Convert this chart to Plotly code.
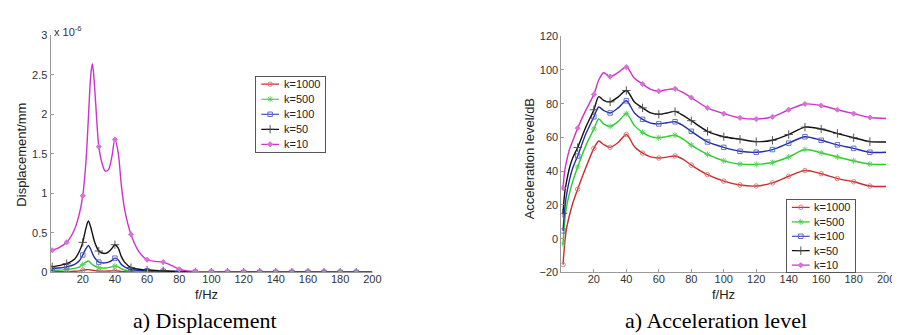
import plotly.graph_objects as go

# ---------------- data ----------------
series_names = ["k=1000", "k=500", "k=100", "k=50", "k=10"]

# a) Displacement (values in units of 1e-6 mm)
freq_disp = [1, 5, 10, 15, 18, 20, 22, 23.5, 25, 26, 27, 28, 30, 32, 34, 36, 38, 40, 42, 44,
             46, 50, 55, 60, 65, 70, 75, 80, 85, 90, 100, 110, 120, 130, 140, 150, 160, 170,
             180, 190, 200]
disp_k1000 = [0.008, 0.009, 0.010, 0.015, 0.020, 0.028, 0.033, 0.035, 0.030, 0.027, 0.024, 0.022,
              0.018, 0.016, 0.016, 0.017, 0.019, 0.021, 0.018, 0.012, 0.008, 0.005, 0.003, 0.002,
              0.002, 0.002, 0.001, 0.001, 0.001, 0.001, 0.001, 0.001, 0.001, 0.001, 0.001, 0.001,
              0.001, 0.001, 0.001, 0.001, 0.001]
disp_k500 = [0.025, 0.028, 0.035, 0.050, 0.070, 0.100, 0.130, 0.145, 0.120, 0.100, 0.085, 0.075,
             0.060, 0.055, 0.055, 0.060, 0.070, 0.080, 0.070, 0.045, 0.030, 0.015, 0.010, 0.008,
             0.007, 0.006, 0.005, 0.004, 0.003, 0.002, 0.001, 0.001, 0.001, 0.001, 0.001, 0.001,
             0.001, 0.001, 0.001, 0.001, 0.001]
disp_k100 = [0.050, 0.055, 0.070, 0.100, 0.150, 0.220, 0.300, 0.340, 0.290, 0.240, 0.200, 0.170,
             0.130, 0.120, 0.120, 0.130, 0.150, 0.180, 0.160, 0.100, 0.070, 0.035, 0.025, 0.020,
             0.017, 0.015, 0.012, 0.010, 0.006, 0.004, 0.002, 0.001, 0.001, 0.001, 0.001, 0.001,
             0.001, 0.001, 0.001, 0.001, 0.001]
disp_k50 = [0.070, 0.085, 0.110, 0.170, 0.270, 0.380, 0.560, 0.650, 0.570, 0.490, 0.410, 0.350,
            0.270, 0.245, 0.240, 0.260, 0.300, 0.350, 0.310, 0.200, 0.130, 0.060, 0.040, 0.030,
            0.025, 0.020, 0.015, 0.010, 0.007, 0.005, 0.003, 0.002, 0.002, 0.001, 0.001, 0.001,
            0.001, 0.001, 0.001, 0.001, 0.001]
disp_k10 = [0.28, 0.31, 0.38, 0.55, 0.75, 0.97, 1.40, 1.95, 2.50, 2.64, 2.45, 2.15, 1.59, 1.38,
            1.28, 1.30, 1.45, 1.68, 1.52, 1.10, 0.80, 0.48, 0.26, 0.16, 0.14, 0.13, 0.09, 0.04,
            0.02, 0.012, 0.006, 0.004, 0.003, 0.002, 0.002, 0.001, 0.001, 0.001, 0.001, 0.001,
            0.001]

# a) Acceleration level (dB)
freq_acc = [1, 2, 3, 5, 7, 10, 15, 20, 23, 26, 30, 35, 40, 45, 50, 55, 60, 65, 70, 75, 80, 90,
            100, 110, 120, 130, 140, 150, 160, 170, 180, 190, 200]
acc_k1000 = [-15.4, -3, 5, 14, 21, 29.3, 42, 53.5, 57.9, 55.8, 54.1, 57, 61.7, 54.5, 50.7, 48.5,
             47.8, 48.3, 49, 47, 43.6, 37.9, 34.1, 31.8, 31.2, 33.1, 37, 40.4, 38.5, 35.6, 33.7,
             31.2, 30.9]
acc_k500 = [-3, 10, 18, 27, 34, 42.5, 55, 65, 70.9, 68, 66.5, 69.5, 74.1, 67, 63, 60.5, 59.8,
            60.5, 61.3, 59, 55.4, 49.9, 46.1, 44.2, 44, 45.1, 48.4, 52.8, 50.9, 48.4, 46.1, 44.2,
            44]
acc_k100 = [4.6, 17, 25, 35, 42, 49, 62, 72.2, 78, 76, 74.5, 77.5, 81.7, 74.5, 70.7, 68.5, 68,
            68.7, 69.3, 67, 63.6, 57.3, 54.1, 51.8, 51.2, 52.8, 56.6, 60.4, 58.3, 55.6, 53.5,
            51.2, 51.2]
acc_k50 = [15, 27, 33, 42, 48, 54, 66, 76.4, 84.2, 82, 81.1, 84, 87.8, 81, 77.5, 74.5, 73.7,
           74.5, 75.4, 73, 69.9, 63.6, 60.4, 58.9, 57.5, 58.3, 61.7, 66.1, 65, 62.3, 59.8, 57.5,
           57.3]
acc_k10 = [30, 40, 45, 53, 58, 65.5, 76, 85.5, 94, 98.3, 96, 98.5, 101.7, 95, 91.6, 88.5, 87.4,
           88.3, 88.8, 86.5, 83.6, 77.5, 74.1, 71.6, 70.9, 72.2, 76.4, 79.8, 78.9, 76.4, 74.1,
           71.8, 71.2]

x_ticks = [20, 40, 60, 80, 100, 120, 140, 160, 180, 200]

# ---------------- styles ----------------
line_colors = ["#cc2b2b", "#2ccc2c", "#1f2fa8", "#111111", "#cc33cc"]
marker_colors = ["#d27575", "#55d055", "#5562c0", "#444444", "#d770d7"]
marker_symbols = ["circle-open", "asterisk-open", "square-open", "cross-thin-open", "diamond"]
marker_sizes = [4.5, 5, 4.5, 6, 4]

FONT = "Liberation Sans, Arial, sans-serif"
SERIF = "Liberation Serif, Times New Roman, serif"
W, H = 900, 335


def px(v):
    return v / W


def py(v):
    return 1 - v / H


fig = go.Figure()


def marker_idx(xs):
    return [i for i, x in enumerate(xs) if (x == 1 or (x % 10 == 0 and x < 200))]


def add_panel(xs, ys_list, xaxis, yaxis):
    idx = marker_idx(xs)
    for i, ys in enumerate(ys_list):
        fig.add_trace(go.Scatter(
            x=xs, y=ys, mode="lines", xaxis=xaxis, yaxis=yaxis,
            line=dict(color=line_colors[i], width=1.4, shape="spline", smoothing=0.8),
            hoverinfo="skip"))
        fig.add_trace(go.Scatter(
            x=[xs[j] for j in idx], y=[ys[j] for j in idx], mode="markers",
            xaxis=xaxis, yaxis=yaxis,
            marker=dict(symbol=marker_symbols[i], size=marker_sizes[i],
                        color=marker_colors[i],
                        line=dict(color=marker_colors[i], width=0.9))))


add_panel(freq_disp, [disp_k1000, disp_k500, disp_k100, disp_k50, disp_k10], "x", "y")
add_panel(freq_acc, [acc_k1000, acc_k500, acc_k100, acc_k50, acc_k10], "x2", "y2")


# ---------------- compact legends (own small axes, entries placed by index) ----------------
def add_legend(xaxis, yaxis):
    n = len(series_names)
    for i, name in enumerate(series_names):
        yc = n - 0.5 - i
        fig.add_trace(go.Scatter(
            x=[0.07, 0.33], y=[yc, yc], mode="lines", xaxis=xaxis, yaxis=yaxis,
            line=dict(color=line_colors[i], width=1.2), hoverinfo="skip"))
        fig.add_trace(go.Scatter(
            x=[0.2], y=[yc], mode="markers", xaxis=xaxis, yaxis=yaxis,
            marker=dict(symbol=marker_symbols[i], size=marker_sizes[i],
                        color=marker_colors[i],
                        line=dict(color=marker_colors[i], width=0.9)),
            hoverinfo="skip"))
        fig.add_annotation(text=name, x=0.37, y=yc, xref=xaxis, yref=yaxis,
                           xanchor="left", yanchor="middle", showarrow=False,
                           font=dict(family=FONT, size=11, color="#222222"))


add_legend("x3", "y3")
add_legend("x4", "y4")

axis_common = dict(showgrid=False, zeroline=False, showline=True, linecolor="#9a9a9a",
                   linewidth=1, ticks="inside", ticklen=3, tickcolor="#9a9a9a",
                   tickfont=dict(family=FONT, size=11, color="#333333"))
legend_axis = dict(showgrid=False, zeroline=False, showline=True, mirror=True,
                   linecolor="#555555", linewidth=1, showticklabels=False, ticks="",
                   fixedrange=True)

fig.update_layout(
    width=W, height=H,
    margin=dict(l=0, r=0, t=0, b=0),
    paper_bgcolor="white", plot_bgcolor="white",
    showlegend=False,
    font=dict(family=FONT, size=11, color="#333333"),
    xaxis=dict(domain=[px(43), px(368)], range=[0, 200], tickvals=x_ticks,
               anchor="y", ticklabelstandoff=-4, **axis_common),
    yaxis=dict(domain=[py(268), py(22)], range=[0, 3], dtick=0.5, anchor="x",
               **axis_common),
    xaxis2=dict(domain=[px(559), px(887)], range=[0, 200], tickvals=x_ticks,
                anchor="y2", ticklabelstandoff=-4, **axis_common),
    yaxis2=dict(domain=[py(268), py(23)], range=[-20, 120], dtick=20, anchor="x2",
                **axis_common),
    xaxis3=dict(domain=[px(251), px(320)], range=[0, 1], anchor="y3", **legend_axis),
    yaxis3=dict(domain=[py(143), py(65)], range=[0, 5], anchor="x3", **legend_axis),
    xaxis4=dict(domain=[px(787), px(856)], range=[0, 1], anchor="y4", **legend_axis),
    yaxis4=dict(domain=[py(268), py(193)], range=[0, 5], anchor="x4", **legend_axis),
)

annots = [
    dict(text="x 10<sup>-6</sup>", x=px(44), y=py(18), xanchor="left", yanchor="middle",
         font=dict(family=FONT, size=11, color="#333333")),
    dict(text="Displacement/mm", x=px(14), y=py(146), textangle=-90,
         font=dict(family=FONT, size=13, color="#222222")),
    dict(text="f/Hz", x=px(201), y=py(291), font=dict(family=FONT, size=13, color="#222222")),
    dict(text="Acceleration level/dB", x=px(527), y=py(150), textangle=-90,
         font=dict(family=FONT, size=13, color="#222222")),
    dict(text="f/Hz", x=px(723), y=py(291), font=dict(family=FONT, size=13, color="#222222")),
    dict(text="a) Displacement", x=px(199), y=py(318),
         font=dict(family=SERIF, size=22, color="#000000")),
    dict(text="a) Acceleration level", x=px(715), y=py(318),
         font=dict(family=SERIF, size=22, color="#000000")),
]
for a in annots:
    a.update(xref="paper", yref="paper", showarrow=False)
    a.setdefault("xanchor", "center")
    a.setdefault("yanchor", "middle")
    fig.add_annotation(**a)

fig.write_html("out.html")
